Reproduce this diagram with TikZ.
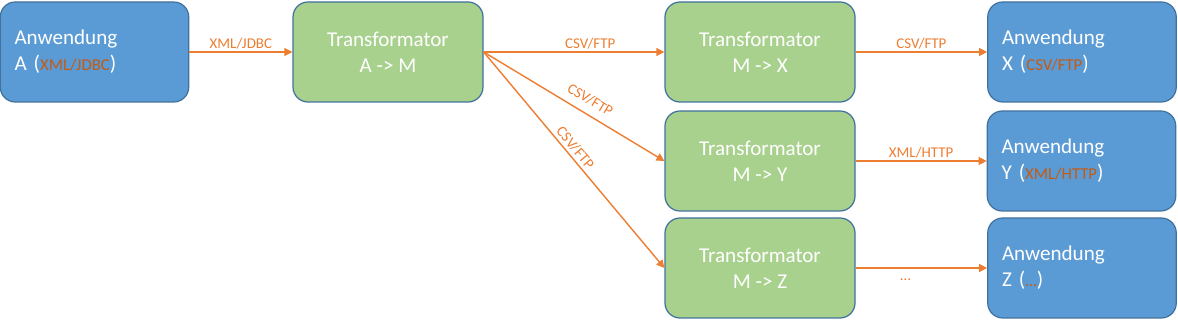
\documentclass[tikz,border=0pt]{standalone}
\usepackage{fontspec}
\setmainfont{Carlito}
\usepackage{tikz}
\usetikzlibrary{arrows.meta, positioning}
\usepackage{xcolor}
\definecolor{appblue}{HTML}{5B9BD5}
\definecolor{edgeblue}{HTML}{41719C}
\definecolor{trgreen}{HTML}{A9D18E}
\definecolor{floworange}{HTML}{ED7D31}
\definecolor{protobrown}{HTML}{C55A11}
\newcommand{\proto}[1]{{\fontsize{9.5}{11}\selectfont\color{protobrown}#1}}

\begin{document}
\begin{tikzpicture}[app/.style={rectangle, draw=edgeblue, fill=appblue, line width=0.7pt,
  rounded corners=0.3cm, minimum width=3.77cm, minimum height=2cm, text=white,
  text width=3.2cm, align=left, font=\fontsize{12}{14.7}\selectfont},
  trafo/.style={rectangle, draw=edgeblue, fill=trgreen, line width=0.7pt,
  rounded corners=0.3cm, minimum width=3.8cm, minimum height=2cm, text=white,
  align=center, font=\fontsize{12}{14.7}\selectfont},
  flow/.style={draw=floworange, line width=0.8pt, -{Triangle[length=4.5pt, width=4.5pt]}},
  lbl/.style={font=\fontsize{8.5}{10}\selectfont, text=floworange, inner sep=1.5pt}]
  \useasboundingbox (0,0) rectangle (23.56,-6.42);

  \node[app] (appa) at (1.89,-1.04) {Anwendung\\A (\proto{XML/JDBC})};
  \node[trafo] (tram) at (7.76,-1.04) {Transformator\\A -> M};
  \node[trafo] (trx) at (15.2,-1.04) {Transformator\\M -> X};
  \node[trafo] (try) at (15.2,-3.22) {Transformator\\M -> Y};
  \node[trafo] (trz) at (15.2,-5.36) {Transformator\\M -> Z};
  \node[app] (appx) at (21.64,-1.04) {Anwendung\\X (\proto{CSV/FTP})};
  \node[app] (appy) at (21.63,-3.22) {Anwendung\\Y (\proto{XML/HTTP})};
  \node[app] (appz) at (21.64,-5.36) {Anwendung\\Z (\proto{\ldots})};

  \draw[flow] (appa) -- node[lbl, above] {XML/JDBC} (tram);
  \draw[flow] (tram.east) -- node[lbl, above, pos=0.59] {CSV/FTP} (trx.west);
  \draw[flow] (tram.east) -- node[lbl, above=3pt, sloped, pos=0.55] {CSV/FTP} (try.west);
  \draw[flow] (tram.east) -- node[lbl, above, sloped, pos=0.47] {CSV/FTP} (trz.west);
  \draw[flow] (trx) -- node[lbl, above] {CSV/FTP} (appx);
  \draw[flow] (try) -- node[lbl, above] {XML/HTTP} (appy);
  \draw[flow] (trz) -- node[lbl, below=4pt, pos=0.38] {\ldots} (appz);
\end{tikzpicture}
\end{document}
